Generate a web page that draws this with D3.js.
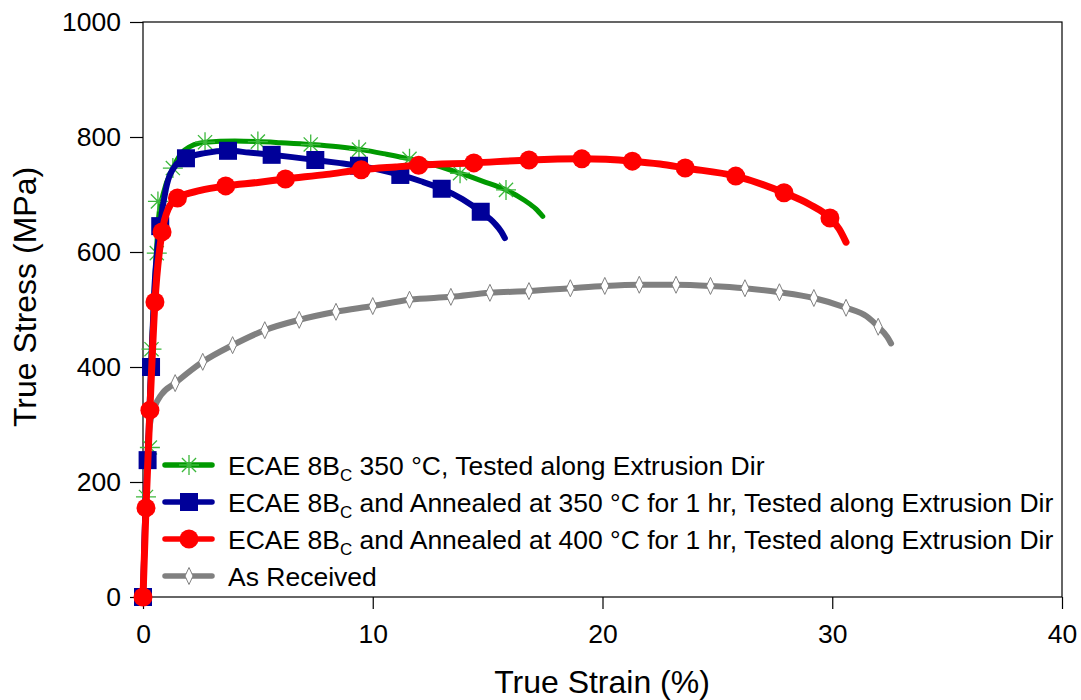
<!DOCTYPE html>
<html><head><meta charset="utf-8">
<script src="https://cdn.jsdelivr.net/npm/d3@7"></script>
<style>
body{margin:0;background:#fff;}
svg{font-family:Arial,"Liberation Sans",sans-serif;}
</style></head>
<body><svg id="c" width="1081" height="700"></svg>
<script>
// ---- data ----
const xTicks = [0, 10, 20, 30, 40];
const yTicks = [0, 200, 400, 600, 800, 1000];
const seriesNames = [
  "350 °C, Tested along Extrusion Dir",
  "and Annealed at 350 °C for 1 hr, Tested along Extrusion Dir",
  "and Annealed at 400 °C for 1 hr, Tested along Extrusion Dir",
  "As Received"
];
const greenLine = [[0,0],[0.13,174],[0.22,260],[0.37,431],[0.58,598],[0.68,660],[0.87,700],[1.3,746],[1.8,777],[2.7,791],[4,793],[5.0,792],[6,790],[7.3,787],[8.5,783],[9.5,778],[10.6,770],[11.7,761],[12.8,750],[13.8,737],[14.8,723],[15.8,708],[16.6,690],[17.1,675],[17.4,662]];
const greenMarks = [[0.13,174],[0.3,260],[0.37,431],[0.6,598],[0.65,688],[1.3,746],[2.7,791],[5.0,792],[7.3,787],[9.4,778],[11.6,762],[13.8,737],[15.8,708]];
const blueLine = [[0,0],[0.1,150],[0.2,238],[0.35,400],[0.5,540],[0.74,645],[1.0,710],[1.4,750],[1.87,763],[2.7,772],[3.7,776],[4.6,773],[5.6,769],[6.5,765],[7.5,760],[8.5,755],[9.4,750],[10.3,743],[11.2,734],[12.1,723],[13.0,710],[13.9,692],[14.7,670],[15.3,650],[15.6,635],[15.75,624]];
const blueMarks = [[0,0],[0.2,238],[0.35,400],[0.75,645],[1.87,763],[3.7,776],[5.6,769],[7.5,760],[9.4,750],[11.2,734],[13.0,710],[14.7,670]];
const redLine = [[0,0],[0.13,155],[0.3,325],[0.52,513],[0.83,635],[1.1,675],[1.5,694],[2.5,707],[3.6,715],[5,721],[6.2,727],[8,735],[9.5,743],[11,748],[12.0,751],[14.4,755],[16.8,760],[19.1,762],[21.3,758],[22.5,753],[23.6,746],[25.8,732],[27.9,703],[29.0,683],[29.9,659],[30.3,640],[30.6,617]];
const redMarks = [[0,0],[0.13,155],[0.3,325],[0.52,513],[0.83,635],[1.5,694],[3.6,715],[6.2,727],[9.5,743],[12.0,751],[14.4,755],[16.8,760],[19.1,762],[21.3,758],[23.6,746],[25.8,732],[27.9,703],[29.9,659]];
const grayLine = [[0,0],[0.1,150],[0.2,250],[0.3,300],[0.5,330],[0.8,352],[1.4,372],[2.6,409],[3.9,438],[5.3,464],[6.8,482],[8.4,496],[10.0,506],[11.6,517],[13.4,522],[15.1,529],[16.8,532],[18.6,537],[20.1,541],[21.6,543],[23.2,543],[24.7,541],[26.2,537],[27.7,530],[29.2,520],[30.6,503],[31.5,488],[32.0,470],[32.4,452],[32.56,441]];
const grayMarks = [[1.4,372],[2.6,409],[3.9,438],[5.3,464],[6.8,482],[8.4,496],[10.0,506],[11.6,517],[13.4,522],[15.1,529],[16.8,532],[18.6,537],[20.1,541],[21.6,543],[23.2,543],[24.7,541],[26.2,537],[27.7,530],[29.2,520],[30.6,503],[32.0,470]];

const svg = d3.select("#c");
const L = 143, R = 1062, T = 22, B = 597;
const x = d3.scaleLinear().domain([0, 40]).range([L, R]);
const y = d3.scaleLinear().domain([0, 1000]).range([B, T]);

// frame
svg.append("rect").attr("x", L).attr("y", T).attr("width", R - L).attr("height", B - T)
  .attr("fill", "none").attr("stroke", "#000").attr("stroke-width", 1.2);

const xa = svg.append("g").attr("transform", `translate(0,${B})`)
  .call(d3.axisBottom(x).tickValues(xTicks).tickSize(12).tickPadding(15).tickFormat(d3.format("d")));
const ya = svg.append("g").attr("transform", `translate(${L},0)`)
  .call(d3.axisLeft(y).tickValues(yTicks).tickSize(13).tickPadding(9).tickFormat(d3.format("d")));
[xa, ya].forEach(g => {
  g.select(".domain").remove();
  g.selectAll("line").attr("stroke", "#000").attr("stroke-width", 1.2);
  g.selectAll("text").attr("font-size", 26.5).attr("fill", "#000").attr("font-family", "Arial, 'Liberation Sans', sans-serif");
});

svg.append("text").attr("x", 602).attr("y", 693).attr("text-anchor", "middle")
  .attr("font-size", 32).text("True Strain (%)");
svg.append("text").attr("transform", "translate(36,297) rotate(-90)").attr("text-anchor", "middle")
  .attr("font-size", 32).text("True Stress (MPa)");

const line = d3.line().x(d => x(d[0])).y(d => y(d[1])).curve(d3.curveMonotoneX);

function starPath(s) {
  const r = s / 2, p = [];
  for (let k = 0; k < 4; k++) {
    const a = k * Math.PI / 4;
    p.push(`M${-r*Math.cos(a)},${-r*Math.sin(a)}L${r*Math.cos(a)},${r*Math.sin(a)}`);
  }
  return p.join("");
}
const markers = {
  star: g => g.append("path").attr("d", starPath(20)).attr("stroke", "#3cb83c").attr("stroke-width", 1.3).attr("fill", "none"),
  square: g => g.append("rect").attr("x", -9).attr("y", -9).attr("width", 18).attr("height", 18).attr("fill", "#000099"),
  circle: g => g.append("circle").attr("r", 9.5).attr("fill", "#ff0000"),
  diamond: g => g.append("path").attr("d", "M0,-8.5L4,0L0,8.5L-4,0Z").attr("fill", "#fff").attr("stroke", "#808080").attr("stroke-width", 1)
};

const series = [
  {line: grayLine, marks: grayMarks, color: "#808080", w: 6, m: "diamond", top: false},
  {line: greenLine, marks: greenMarks, color: "#009900", w: 5, m: "star", top: false},
  {line: blueLine, marks: blueMarks, color: "#000099", w: 6, m: "square", top: true},
  {line: redLine, marks: redMarks, color: "#ff0000", w: 7, m: "circle", top: true}
];
series.forEach(s => {
  const g = svg.append("g");
  if (s.top) {
    g.append("path").attr("d", line(s.line)).attr("fill", "none").attr("stroke", s.color)
      .attr("stroke-width", s.w).attr("stroke-linecap", "round").attr("stroke-linejoin", "round");
  }
  g.selectAll("g.mk").data(s.marks).join("g").attr("class", "mk")
    .attr("transform", d => `translate(${x(d[0])},${y(d[1])})`).each(function(){ markers[s.m](d3.select(this)); });
  if (!s.top) {
    g.insert("path", ":first-child").attr("d", line(s.line)).attr("fill", "none").attr("stroke", s.color)
      .attr("stroke-width", s.w).attr("stroke-linecap", "round").attr("stroke-linejoin", "round");
  }
});

// legend
const legOrder = [
  {name: seriesNames[0], color: "#009900", m: "star", sub: true},
  {name: seriesNames[1], color: "#000099", m: "square", sub: true},
  {name: seriesNames[2], color: "#ff0000", m: "circle", sub: true},
  {name: seriesNames[3], color: "#808080", m: "diamond", sub: false}
];
const legY = [465, 502, 539, 576];
legOrder.forEach((d, i) => {
  const g = svg.append("g").attr("transform", `translate(0,${legY[i]})`);
  g.append("line").attr("x1", 165).attr("x2", 212).attr("stroke", d.color).attr("stroke-width", 5.5).attr("stroke-linecap", "round");
  const mg = g.append("g").attr("transform", "translate(189,0)");
  markers[d.m](mg);
  const t = g.append("text").attr("x", 228).attr("y", 10).attr("font-size", 26.5).attr("fill", "#000");
  if (d.sub) {
    t.append("tspan").text("ECAE 8B");
    t.append("tspan").attr("font-size", 17).attr("dy", 6).text("C");
    t.append("tspan").attr("dy", -6).text(" " + d.name);
  } else {
    t.text(d.name);
  }
});
</script></body></html>
